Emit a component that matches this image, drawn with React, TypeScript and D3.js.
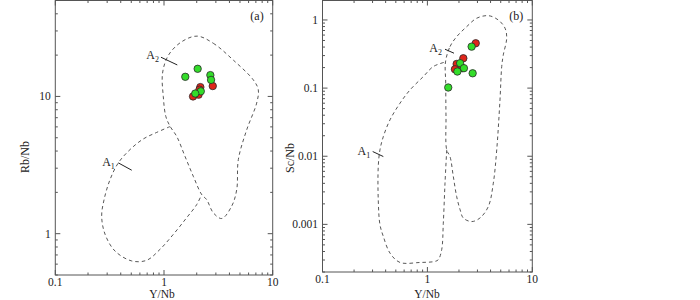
import React from "react";
import * as d3 from "d3";

type Pt = [number, number];

// ---- axis ticks ----
const xTickValues = [0.1, 1, 10];
const xTickLabels = ["0.1", "1", "10"];
const rbTickValues = [1, 10];
const rbTickLabels = ["1", "10"];
const scTickValues = [0.001, 0.01, 0.1, 1];
const scTickLabels = ["0.001", "0.01", "0.1", "1"];

// ---- samples: panel (a) Y/Nb vs Rb/Nb ----
const rbRed: Pt[] = [[2.81, 11.9], [2.16, 11.7], [1.85, 10.0], [2.08, 10.3], [2.12, 11.2]];
const rbGreen: Pt[] = [[1.57, 13.9], [2.04, 15.9], [2.67, 14.3], [2.71, 13.2], [2.18, 10.9], [1.94, 10.5]];

// ---- samples: panel (b) Y/Nb vs Sc/Nb ----
const scRed: Pt[] = [[2.89, 0.455], [2.2, 0.274], [1.9, 0.226], [2.15, 0.196], [1.83, 0.189]];
const scGreen: Pt[] = [[2.64, 0.406], [2.05, 0.232], [2.23, 0.196], [1.93, 0.175], [2.7, 0.165], [1.58, 0.102]];

// ---- field boundaries panel (a) ----
const rbFieldA2: Pt[] = [
  [2.02, 27.5], [2.84, 24.4], [4.34, 18.4], [6.63, 13.2], [7.37, 11.2], [7.12, 8.94],
  [5.77, 5.72], [4.83, 3.47], [4.67, 2.1], [4.2, 1.59], [3.4, 1.29], [2.84, 1.42],
  [2.47, 1.77], [2.22, 1.93], [1.86, 2.62], [1.56, 3.66], [1.31, 5.11], [1.14, 6.04],
  [1.04, 7.14], [0.985, 10], [0.97, 14.8], [1.1, 20.0], [1.45, 25.0],
];
const rbFieldA1: Pt[] = [
  [1.14, 6.04], [0.857, 5.47], [0.645, 4.9], [0.487, 4.1], [0.38, 3.28], [0.319, 2.48],
  [0.281, 1.77], [0.267, 1.34], [0.287, 0.99], [0.354, 0.748], [0.505, 0.633], [0.693, 0.64],
  [0.919, 0.769], [1.22, 0.99], [1.62, 1.31], [2.0, 1.63], [2.22, 1.93],
];
const rbTickA1: Pt[] = [[0.38, 3.28], [0.505, 2.9]];
const rbTickA2: Pt[] = [[0.938, 19.3], [1.325, 16.96]];

// ---- field boundaries panel (b) ----
const scFieldA2: Pt[] = [
  [1.488, 0.242], [1.642, 0.406], [1.903, 0.569], [2.37, 0.798], [2.95, 1.06], [3.81, 1.156],
  [4.74, 1.0], [5.5, 0.756], [5.7, 0.539], [5.29, 0.307], [5.11, 0.207], [4.92, 0.0671],
  [4.58, 0.0124], [4.25, 0.00403], [3.81, 0.00183], [3.17, 0.00124], [2.645, 0.0011],
  [2.2, 0.00124], [2.05, 0.00164], [1.9, 0.00257], [1.766, 0.00504], [1.642, 0.0099],
  [1.528, 0.0124], [1.504, 0.0382], [1.495, 0.118],
];
const scFieldA1: Pt[] = [
  [1.528, 0.0124], [1.472, 0.00403], [1.418, 0.00104], [1.368, 0.000424], [1.27, 0.000303],
  [1.18, 0.000286], [0.85, 0.000276], [0.548, 0.000276], [0.44, 0.000379], [0.38, 0.000665],
  [0.353, 0.00099], [0.34, 0.0023], [0.34, 0.00706], [0.353, 0.0124], [0.38, 0.0194],
  [0.44, 0.0342], [0.548, 0.06], [0.683, 0.094], [0.914, 0.1475], [1.138, 0.207], [1.488, 0.242],
];
const scTickA1: Pt[] = [[0.301, 0.01172], [0.38, 0.0099]];
const scTickA2: Pt[] = [[1.472, 0.372], [1.793, 0.325]];

const FONT = "'Liberation Serif', 'Times New Roman', Times, serif";
const FRAME = "#555";
const DASH = "#444";
const RED = "#e0261b";
const GREEN = "#33dd2a";

interface PanelProps {
  left: number; right: number; top: number; bottom: number;
  yDomain: [number, number];
  yTickValues: number[]; yTickLabels: string[];
  yTitle: string; yTitleX: number; yTitleY: number;
  xTitleX: number;
  tag: string;
  fieldA2: Pt[]; fieldA1: Pt[];
  tickA1: Pt[]; tickA2: Pt[];
  offA1: [number, number]; offA2: [number, number];
  red: Pt[]; green: Pt[];
}

function Panel(p: PanelProps) {
  const x = d3.scaleLog().domain([0.1, 10]).range([p.left, p.right]);
  const y = d3.scaleLog().domain(p.yDomain).range([p.bottom, p.top]);
  const xt = x.ticks();
  const yt = y.ticks();
  const isMajor = (v: number) => Math.abs(Math.log10(v) - Math.round(Math.log10(v))) < 1e-6;
  const closed = d3.line<Pt>().x((d) => x(d[0])).y((d) => y(d[1])).curve(d3.curveCatmullRomClosed.alpha(0.5));
  const open = d3.line<Pt>().x((d) => x(d[0])).y((d) => y(d[1])).curve(d3.curveCatmullRom.alpha(0.5));
  const seg = d3.line<Pt>().x((d) => x(d[0])).y((d) => y(d[1]));
  const MAJ = 5, MIN = 2.5;
  const label = (t: Pt[], off: [number, number], sub: string) => (
    <text x={x(t[0][0]) + off[0]} y={y(t[0][1]) + off[1]} textAnchor="end" fontFamily={FONT} fontSize={12} fill="#222">
      A<tspan fontSize={8} dy={3}>{sub}</tspan>
    </text>
  );
  return (
    <g>
      {/* fields */}
      <path d={closed(p.fieldA2) || ""} fill="none" stroke={DASH} strokeWidth={0.9} strokeDasharray="3.5,3" />
      <path d={open(p.fieldA1) || ""} fill="none" stroke={DASH} strokeWidth={0.9} strokeDasharray="3.5,3" />
      <path d={seg(p.tickA1) || ""} stroke="#222" strokeWidth={1} />
      <path d={seg(p.tickA2) || ""} stroke="#222" strokeWidth={1} />
      {label(p.tickA1, p.offA1, "1")}
      {label(p.tickA2, p.offA2, "2")}
      {/* points */}
      {p.red.map((d, i) => (
        <circle key={"r" + i} cx={x(d[0])} cy={y(d[1])} r={3.7} fill={RED} stroke="#2a2a2a" strokeWidth={0.8} />
      ))}
      {p.green.map((d, i) => (
        <circle key={"g" + i} cx={x(d[0])} cy={y(d[1])} r={3.7} fill={GREEN} stroke="#2a2a2a" strokeWidth={0.8} />
      ))}
      {/* frame */}
      <rect x={p.left} y={p.top} width={p.right - p.left} height={p.bottom - p.top} fill="none" stroke={FRAME} strokeWidth={1} />
      {xt.map((v, i) => {
        const L = isMajor(v) ? MAJ : MIN;
        const px = x(v);
        return (
          <g key={"xt" + i}>
            <line x1={px} x2={px} y1={p.bottom} y2={p.bottom - L} stroke={FRAME} />
            <line x1={px} x2={px} y1={p.top} y2={p.top + L} stroke={FRAME} />
          </g>
        );
      })}
      {yt.map((v, i) => {
        const L = isMajor(v) ? MAJ : MIN;
        const py = y(v);
        return (
          <g key={"yt" + i}>
            <line x1={p.left} x2={p.left + L} y1={py} y2={py} stroke={FRAME} />
            <line x1={p.right} x2={p.right - L} y1={py} y2={py} stroke={FRAME} />
          </g>
        );
      })}
      {xTickValues.map((v, i) => (
        <text key={"xl" + i} x={x(v)} y={p.bottom + 10.5} textAnchor="middle" fontFamily={FONT} fontSize={11.5} fill="#222">
          {xTickLabels[i]}
        </text>
      ))}
      {p.yTickValues.map((v, i) => (
        <text key={"yl" + i} x={p.left - 4.5} y={y(v) + 4} textAnchor="end" fontFamily={FONT} fontSize={11.5} fill="#222">
          {p.yTickLabels[i]}
        </text>
      ))}
      <text x={p.xTitleX} y={297.5} textAnchor="middle" fontFamily={FONT} fontSize={11.5} fill="#222">Y/Nb</text>
      <text
        transform={`translate(${p.yTitleX},${p.yTitleY}) rotate(-90)`}
        textAnchor="middle"
        fontFamily={FONT}
        fontSize={12}
        fill="#222"
      >
        {p.yTitle}
      </text>
      <text x={p.right - 9} y={20} textAnchor="end" fontFamily={FONT} fontSize={12} fill="#222">{p.tag}</text>
    </g>
  );
}

export default function App() {
  return (
    <svg width={700} height={300} style={{ position: "absolute", left: 0, top: 0, background: "#fff" }}>
      <Panel
        left={55.3} right={272.7} top={0.5} bottom={275}
        yDomain={[0.5, 50]}
        yTickValues={rbTickValues} yTickLabels={rbTickLabels}
        yTitle="Rb/Nb" yTitleX={29} yTitleY={157}
        xTitleX={162}
        tag="(a)"
        fieldA2={rbFieldA2} fieldA1={rbFieldA1}
        tickA1={rbTickA1} tickA2={rbTickA2}
        offA1={[-3.5, 3]} offA2={[-2, 2]}
        red={rbRed} green={rbGreen}
      />
      <Panel
        left={322.5} right={532.3} top={0.5} bottom={272}
        yDomain={[0.0002, 1.93]}
        yTickValues={scTickValues} yTickLabels={scTickLabels}
        yTitle="Sc/Nb" yTitleX={294} yTitleY={158}
        xTitleX={427}
        tag="(b)"
        fieldA2={scFieldA2} fieldA1={scFieldA1}
        tickA1={scTickA1} tickA2={scTickA2}
        offA1={[-2.5, 3.5]} offA2={[-3, 3]}
        red={scRed} green={scGreen}
      />
    </svg>
  );
}
